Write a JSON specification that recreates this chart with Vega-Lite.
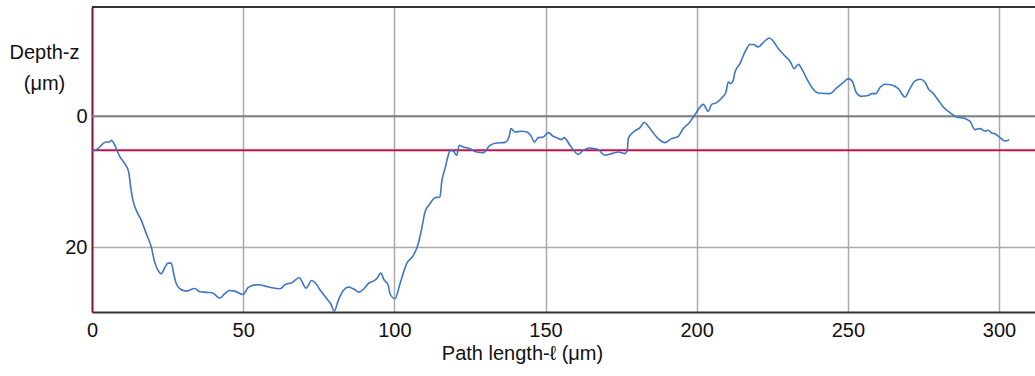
{
  "$schema": "https://vega.github.io/schema/vega-lite/v6.json",
  "width": 943,
  "height": 305,
  "autosize": {"type": "none"},
  "padding": {"left": 92, "top": 7, "right": 0, "bottom": 64},
  "background": "white",
  "config": {
    "view": {"stroke": null},
    "font": "Liberation Sans",
    "axis": {"labelFont": "Liberation Sans", "titleFont": "Liberation Sans", "labelFontSize": 20, "titleFontSize": 20, "labelColor": "#111", "titleColor": "#111", "titleFontWeight": "normal", "ticks": false, "gridColor": "#aaaaaa", "gridWidth": 1.5}
  },
  "datasets": {
    "profile": [
      {"l": 0, "z": 5.35}, {"l": 1.42, "z": 5.09}, {"l": 2.55, "z": 4.69}, {"l": 3.64, "z": 4.17}, {"l": 4.73, "z": 3.93},
      {"l": 5.85, "z": 3.93}, {"l": 6.38, "z": 3.67}, {"l": 7.28, "z": 4.17}, {"l": 8.37, "z": 5.31}, {"l": 9.16, "z": 6.12},
      {"l": 10.82, "z": 7.23}, {"l": 12.14, "z": 8.52}, {"l": 12.8, "z": 10.81}, {"l": 13.56, "z": 12.84}, {"l": 14.65, "z": 14.37},
      {"l": 16.31, "z": 15.9}, {"l": 17.96, "z": 17.94}, {"l": 19.61, "z": 19.98}, {"l": 20.74, "z": 22.28}, {"l": 21.83, "z": 23.55},
      {"l": 22.92, "z": 24.05}, {"l": 24.04, "z": 23.13}, {"l": 25.14, "z": 22.43}, {"l": 26.23, "z": 22.43}, {"l": 27.02, "z": 24.05},
      {"l": 27.88, "z": 25.58}, {"l": 29.53, "z": 26.5}, {"l": 31.19, "z": 26.71}, {"l": 33.97, "z": 26.3}, {"l": 35.62, "z": 26.8},
      {"l": 38.37, "z": 26.91}, {"l": 40.02, "z": 27.02}, {"l": 42.24, "z": 27.78}, {"l": 43.89, "z": 27.11}, {"l": 45.54, "z": 26.61},
      {"l": 47.2, "z": 26.71}, {"l": 49.94, "z": 27.22}, {"l": 51.6, "z": 26.19}, {"l": 52.82, "z": 25.89}, {"l": 55.0, "z": 25.73},
      {"l": 57.22, "z": 25.95}, {"l": 59.43, "z": 26.19}, {"l": 62.18, "z": 26.35}, {"l": 63.83, "z": 25.73}, {"l": 66.05, "z": 25.43},
      {"l": 68.56, "z": 24.66}, {"l": 70.78, "z": 26.25}, {"l": 72.66, "z": 25.08}, {"l": 74.09, "z": 25.58}, {"l": 75.41, "z": 26.5},
      {"l": 77.39, "z": 27.72}, {"l": 78.95, "z": 28.64}, {"l": 80.14, "z": 29.77}, {"l": 81.46, "z": 28.13}, {"l": 83.11, "z": 26.61},
      {"l": 84.77, "z": 26.1}, {"l": 86.42, "z": 26.35}, {"l": 88.41, "z": 26.86}, {"l": 89.96, "z": 26.35}, {"l": 91.38, "z": 25.58},
      {"l": 93.04, "z": 25.18}, {"l": 94.16, "z": 24.82}, {"l": 95.48, "z": 23.96}, {"l": 96.58, "z": 24.97}, {"l": 98.0, "z": 25.84},
      {"l": 98.56, "z": 27.11}, {"l": 100.21, "z": 27.87}, {"l": 101.87, "z": 25.58}, {"l": 104.08, "z": 22.52}, {"l": 106.27, "z": 21.25},
      {"l": 107.92, "z": 19.46}, {"l": 109.05, "z": 17.17}, {"l": 110.14, "z": 14.63}, {"l": 111.79, "z": 13.35}, {"l": 113.44, "z": 12.43},
      {"l": 115.1, "z": 12.34}, {"l": 115.66, "z": 10.05}, {"l": 116.75, "z": 8.0}, {"l": 117.84, "z": 5.96}, {"l": 118.41, "z": 5.2},
      {"l": 119.5, "z": 5.31}, {"l": 120.62, "z": 5.96}, {"l": 121.48, "z": 4.43}, {"l": 122.8, "z": 4.69}, {"l": 125.02, "z": 4.94},
      {"l": 127.23, "z": 5.46}, {"l": 129.42, "z": 5.55}, {"l": 131.64, "z": 4.43}, {"l": 133.85, "z": 4.08}, {"l": 136.59, "z": 3.98},
      {"l": 137.92, "z": 3.17}, {"l": 138.58, "z": 1.88}, {"l": 139.9, "z": 2.4}, {"l": 142.12, "z": 2.29}, {"l": 143.77, "z": 2.4},
      {"l": 145.43, "z": 3.17}, {"l": 146.29, "z": 3.93}, {"l": 147.61, "z": 3.26}, {"l": 149.26, "z": 3.17}, {"l": 150.92, "z": 2.49},
      {"l": 152.57, "z": 3.06}, {"l": 153.7, "z": 3.26}, {"l": 155.35, "z": 3.56}, {"l": 156.11, "z": 3.26}, {"l": 158.1, "z": 4.43},
      {"l": 159.75, "z": 5.46}, {"l": 160.84, "z": 5.81}, {"l": 162.49, "z": 5.2}, {"l": 164.71, "z": 4.85}, {"l": 167.45, "z": 5.09},
      {"l": 169.67, "z": 5.96}, {"l": 171.88, "z": 5.7}, {"l": 174.07, "z": 5.46}, {"l": 176.28, "z": 5.7}, {"l": 177.04, "z": 5.2},
      {"l": 177.37, "z": 3.41}, {"l": 179.03, "z": 2.4}, {"l": 181.25, "z": 1.73}, {"l": 182.67, "z": 0.92}, {"l": 183.99, "z": 1.53},
      {"l": 186.77, "z": 3.17}, {"l": 189.51, "z": 4.02}, {"l": 191.73, "z": 3.41}, {"l": 193.91, "z": 3.06}, {"l": 195.57, "z": 1.88},
      {"l": 197.78, "z": 0.87}, {"l": 200.0, "z": -0.66}, {"l": 202.18, "z": -1.83}, {"l": 203.84, "z": -0.76}, {"l": 204.96, "z": -1.83},
      {"l": 206.61, "z": -2.09}, {"l": 208.27, "z": -2.8}, {"l": 209.69, "z": -3.72}, {"l": 210.45, "z": -5.24}, {"l": 211.25, "z": -5.0},
      {"l": 212.11, "z": -5.5}, {"l": 212.67, "z": -6.77}, {"l": 214.32, "z": -8.06}, {"l": 215.98, "z": -9.83}, {"l": 217.63, "z": -10.96},
      {"l": 218.72, "z": -10.96}, {"l": 220.37, "z": -10.6}, {"l": 222.03, "z": -11.27}, {"l": 224.01, "z": -11.97}, {"l": 225.34, "z": -11.47},
      {"l": 226.99, "z": -10.35}, {"l": 229.2, "z": -9.22}, {"l": 230.86, "z": -8.41}, {"l": 232.28, "z": -7.29}, {"l": 233.6, "z": -7.95},
      {"l": 234.73, "z": -7.29}, {"l": 236.38, "z": -5.76}, {"l": 238.56, "z": -4.13}, {"l": 240.22, "z": -3.56}, {"l": 244.09, "z": -3.47},
      {"l": 246.3, "z": -4.33}, {"l": 248.49, "z": -5.15}, {"l": 250.14, "z": -5.76}, {"l": 251.59, "z": -5.24}, {"l": 252.69, "z": -3.72},
      {"l": 254.57, "z": -3.06}, {"l": 256.76, "z": -3.17}, {"l": 257.88, "z": -3.47}, {"l": 259.2, "z": -3.47}, {"l": 260.63, "z": -4.39},
      {"l": 262.28, "z": -4.89}, {"l": 264.49, "z": -4.79}, {"l": 266.68, "z": -4.24}, {"l": 268.89, "z": -2.95}, {"l": 270.55, "z": -4.24},
      {"l": 272.2, "z": -5.4}, {"l": 273.86, "z": -5.66}, {"l": 275.51, "z": -5.24}, {"l": 276.6, "z": -4.24}, {"l": 278.26, "z": -3.47},
      {"l": 279.91, "z": -2.45}, {"l": 281.57, "z": -1.42}, {"l": 283.78, "z": -0.57}, {"l": 285.99, "z": 0.11}, {"l": 288.74, "z": 0.35},
      {"l": 290.39, "z": 0.76}, {"l": 292.05, "z": 2.03}, {"l": 293.7, "z": 1.88}, {"l": 295.35, "z": 2.25}, {"l": 296.45, "z": 2.14},
      {"l": 297.57, "z": 2.55}, {"l": 298.66, "z": 2.65}, {"l": 300.31, "z": 3.26}, {"l": 301.97, "z": 3.78}, {"l": 303.39, "z": 3.56}
    ]
  },
  "layer": [
    {
      "data": {"values": [{"z": 0}]},
      "mark": {"type": "rule", "color": "#808080", "strokeWidth": 2},
      "encoding": {"y": {"field": "z", "type": "quantitative"}}
    },
    {
      "data": {"values": [{"z": -16.7}]},
      "mark": {"type": "rule", "color": "#333333", "strokeWidth": 2},
      "encoding": {"y": {"field": "z", "type": "quantitative"}}
    },
    {
      "data": {"values": [{"z": 5.2}]},
      "mark": {"type": "rule", "color": "#c8104a", "strokeWidth": 2},
      "encoding": {"y": {"field": "z", "type": "quantitative"}}
    },
    {
      "data": {"name": "profile"},
      "mark": {"type": "line", "color": "#3d76c2", "strokeWidth": 1.6, "interpolate": "monotone"},
      "encoding": {
        "x": {
          "field": "l", "type": "quantitative",
          "scale": {"domain": [0, 311.9], "nice": false, "zero": false},
          "axis": {
            "values": [0, 50, 100, 150, 200, 250, 300],
            "title": "Path length-ℓ (μm)",
            "titleX": 430, "titleY": 41, "titleBaseline": "middle", "titleAlign": "center",
            "labelPadding": 8, "labelFlush": false,
            "domainColor": "#333333", "domainWidth": 2
          }
        },
        "y": {
          "field": "z", "type": "quantitative",
          "scale": {"domain": [-16.7, 29.9], "reverse": true, "nice": false, "zero": false},
          "axis": {
            "values": [0, 20],
            "title": ["Depth-z", "(μm)"],
            "titleAngle": 0, "titleAlign": "center", "titleBaseline": "middle",
            "titleX": -48, "titleY": 45.5, "titleLineHeight": 31,
            "labelPadding": 5, "labelFlush": false,
            "domainColor": "#8b1a3c", "domainWidth": 2
          }
        }
      }
    }
  ]
}
